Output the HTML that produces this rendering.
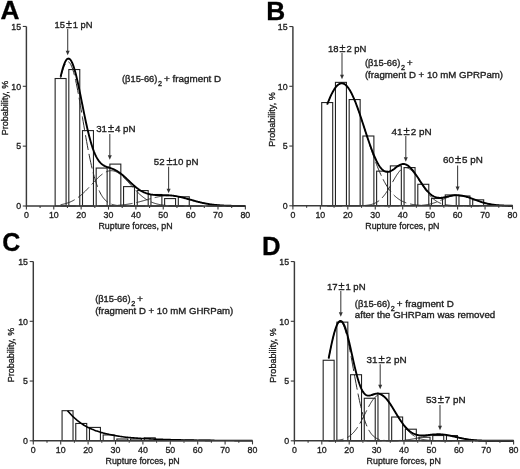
<!DOCTYPE html>
<html><head><meta charset="utf-8"><style>
html,body{margin:0;padding:0;background:#fff;overflow:hidden;width:520px;height:469px;}
svg{display:block;font-family:"Liberation Sans", sans-serif;filter:grayscale(1) blur(0.35px);}
text{fill:#1e1e1e;stroke:#1e1e1e;stroke-width:0.35px;}
</style></head><body>
<svg width="520" height="469" viewBox="0 0 520 469">
<rect width="520" height="469" fill="#fff"/>
<rect x="55.14" y="78.52" width="10.95" height="127.48" fill="none" stroke="#222" stroke-width="1.1"/>
<rect x="68.82" y="69.54" width="10.95" height="136.46" fill="none" stroke="#222" stroke-width="1.1"/>
<rect x="82.51" y="130.59" width="10.95" height="75.41" fill="none" stroke="#222" stroke-width="1.1"/>
<rect x="96.19" y="168.06" width="10.95" height="37.94" fill="none" stroke="#222" stroke-width="1.1"/>
<rect x="109.88" y="164.10" width="10.95" height="41.90" fill="none" stroke="#222" stroke-width="1.1"/>
<rect x="123.56" y="186.61" width="10.95" height="19.39" fill="none" stroke="#222" stroke-width="1.1"/>
<rect x="137.25" y="190.56" width="10.95" height="15.44" fill="none" stroke="#222" stroke-width="1.1"/>
<rect x="150.93" y="194.51" width="10.95" height="11.49" fill="none" stroke="#222" stroke-width="1.1"/>
<rect x="164.62" y="198.58" width="10.95" height="7.42" fill="none" stroke="#222" stroke-width="1.1"/>
<rect x="178.30" y="196.78" width="10.95" height="9.22" fill="none" stroke="#222" stroke-width="1.1"/>
<polyline points="60.61,78.12 61.30,75.33 61.98,72.75 62.67,70.42 63.35,68.34 64.03,66.53 64.72,65.00 65.40,63.75 66.09,62.80 66.77,62.16 67.45,61.82 68.14,61.79 68.82,62.06 69.51,62.65 70.19,63.54 70.88,64.72 71.56,66.20 72.24,67.96 72.93,69.98 73.61,72.27 74.30,74.79 74.98,77.55 75.67,80.51 76.35,83.67 77.03,87.01 77.72,90.50 78.40,94.13 79.09,97.88 79.77,101.73 80.46,105.65 81.14,109.64 81.82,113.66 82.51,117.70 83.19,121.75 83.88,125.79 84.56,129.79 85.25,133.75 85.93,137.66 86.61,141.48 87.30,145.23 87.98,148.88 88.67,152.43 89.35,155.86 90.04,159.17 90.72,162.36 91.40,165.42 92.09,168.34 92.77,171.13 93.46,173.78 94.14,176.30 94.82,178.67 95.51,180.91 96.19,183.02 96.88,184.99 97.56,186.84 98.25,188.56 98.93,190.16 99.61,191.64 100.30,193.02 100.98,194.28 101.67,195.45 102.35,196.52 103.04,197.50 103.72,198.39 104.40,199.21 105.09,199.95 105.77,200.62 106.46,201.23 107.14,201.78 107.83,202.27 108.51,202.71 109.19,203.11 109.88,203.46 110.56,203.78 111.25,204.06 111.93,204.31 112.62,204.53 113.30,204.72 113.98,204.89 114.67,205.04 115.35,205.17 116.04,205.29 116.72,205.39 117.41,205.48 118.09,205.55 118.77,205.62 119.46,205.67 120.14,205.72 120.83,205.77 121.51,205.80 122.19,205.83 122.88,205.86 123.56,205.88 124.25,205.90 124.93,205.92 125.62,205.93 126.30,205.94 126.98,205.95 127.67,205.96 128.35,205.97 129.04,205.97 129.72,205.98 130.41,205.98 131.09,205.98 131.77,205.99 132.46,205.99 133.14,205.99 133.83,205.99 134.51,205.99 135.20,206.00 135.88,206.00 136.56,206.00 137.25,206.00 137.93,206.00 138.62,206.00 139.30,206.00 139.99,206.00 140.67,206.00 141.35,206.00 142.04,206.00 142.72,206.00 143.41,206.00 144.09,206.00 144.78,206.00 145.46,206.00 146.14,206.00 146.83,206.00 147.51,206.00 148.20,206.00 148.88,206.00 149.56,206.00 150.25,206.00 150.93,206.00 151.62,206.00 152.30,206.00 152.99,206.00 153.67,206.00 154.35,206.00 155.04,206.00 155.72,206.00 156.41,206.00 157.09,206.00 157.78,206.00 158.46,206.00 159.14,206.00 159.83,206.00 160.51,206.00 161.20,206.00 161.88,206.00 162.57,206.00 163.25,206.00 163.93,206.00 164.62,206.00 165.30,206.00 165.99,206.00 166.67,206.00 167.36,206.00 168.04,206.00 168.72,206.00 169.41,206.00 170.09,206.00 170.78,206.00 171.46,206.00 172.15,206.00 172.83,206.00 173.51,206.00 174.20,206.00 174.88,206.00 175.57,206.00 176.25,206.00 176.94,206.00 177.62,206.00 178.30,206.00 178.99,206.00 179.67,206.00 180.36,206.00 181.04,206.00 181.72,206.00 182.41,206.00 183.09,206.00 183.78,206.00 184.46,206.00 185.15,206.00 185.83,206.00 186.51,206.00 187.20,206.00 187.88,206.00 188.57,206.00 189.25,206.00 189.94,206.00 190.62,206.00 191.30,206.00 191.99,206.00 192.67,206.00 193.36,206.00 194.04,206.00 194.73,206.00 195.41,206.00 196.09,206.00 196.78,206.00 197.46,206.00 198.15,206.00 198.83,206.00 199.52,206.00 200.20,206.00 200.88,206.00 201.57,206.00 202.25,206.00 202.94,206.00 203.62,206.00 204.31,206.00 204.99,206.00 205.67,206.00 206.36,206.00 207.04,206.00 207.73,206.00 208.41,206.00 209.09,206.00 209.78,206.00 210.46,206.00 211.15,206.00 211.83,206.00 212.52,206.00 213.20,206.00 213.88,206.00 214.57,206.00 215.25,206.00 215.94,206.00 216.62,206.00 217.31,206.00 217.99,206.00 218.67,206.00 219.36,206.00 220.04,206.00 220.73,206.00 221.41,206.00 222.10,206.00 222.78,206.00 223.46,206.00 224.15,206.00 224.83,206.00 225.52,206.00 226.20,206.00 226.89,206.00 227.57,206.00 228.25,206.00 228.94,206.00 229.62,206.00 230.31,206.00 230.99,206.00 231.68,206.00 232.36,206.00 233.04,206.00 233.73,206.00 234.41,206.00 235.10,206.00 235.78,206.00 236.46,206.00 237.15,206.00 237.83,206.00 238.52,206.00 239.20,206.00 239.89,206.00 240.57,206.00 241.25,206.00 241.94,206.00 242.62,206.00 243.31,206.00 243.99,206.00 244.68,206.00 245.36,206.00" fill="none" stroke="#2a2a2a" stroke-width="1.0" stroke-dasharray="15,4"/>
<polyline points="60.61,204.70 61.30,204.58 61.98,204.45 62.67,204.31 63.35,204.16 64.03,204.00 64.72,203.83 65.40,203.64 66.09,203.44 66.77,203.23 67.45,203.01 68.14,202.77 68.82,202.52 69.51,202.25 70.19,201.97 70.88,201.67 71.56,201.35 72.24,201.02 72.93,200.67 73.61,200.30 74.30,199.91 74.98,199.51 75.67,199.08 76.35,198.64 77.03,198.18 77.72,197.70 78.40,197.19 79.09,196.68 79.77,196.14 80.46,195.58 81.14,195.01 81.82,194.42 82.51,193.81 83.19,193.18 83.88,192.54 84.56,191.88 85.25,191.21 85.93,190.53 86.61,189.83 87.30,189.13 87.98,188.41 88.67,187.68 89.35,186.95 90.04,186.22 90.72,185.47 91.40,184.73 92.09,183.99 92.77,183.25 93.46,182.51 94.14,181.77 94.82,181.05 95.51,180.33 96.19,179.62 96.88,178.93 97.56,178.25 98.25,177.59 98.93,176.95 99.61,176.33 100.30,175.74 100.98,175.17 101.67,174.62 102.35,174.11 103.04,173.62 103.72,173.17 104.40,172.75 105.09,172.37 105.77,172.02 106.46,171.72 107.14,171.45 107.83,171.22 108.51,171.03 109.19,170.88 109.88,170.77 110.56,170.71 111.25,170.69 111.93,170.71 112.62,170.78 113.30,170.89 113.98,171.05 114.67,171.25 115.35,171.49 116.04,171.77 116.72,172.10 117.41,172.47 118.09,172.87 118.77,173.31 119.46,173.79 120.14,174.30 120.83,174.84 121.51,175.41 122.19,176.01 122.88,176.63 123.56,177.28 124.25,177.95 124.93,178.64 125.62,179.35 126.30,180.07 126.98,180.80 127.67,181.54 128.35,182.30 129.04,183.06 129.72,183.82 130.41,184.58 131.09,185.35 131.77,186.11 132.46,186.87 133.14,187.62 133.83,188.37 134.51,189.11 135.20,189.83 135.88,190.55 136.56,191.25 137.25,191.94 137.93,192.61 138.62,193.27 139.30,193.91 139.99,194.54 140.67,195.14 141.35,195.73 142.04,196.29 142.72,196.84 143.41,197.37 144.09,197.88 144.78,198.36 145.46,198.83 146.14,199.28 146.83,199.71 147.51,200.11 148.20,200.50 148.88,200.87 149.56,201.22 150.25,201.55 150.93,201.87 151.62,202.16 152.30,202.45 152.99,202.71 153.67,202.96 154.35,203.19 155.04,203.41 155.72,203.61 156.41,203.81 157.09,203.98 157.78,204.15 158.46,204.30 159.14,204.45 159.83,204.58 160.51,204.71 161.20,204.82 161.88,204.93 162.57,205.02 163.25,205.11 163.93,205.20 164.62,205.27 165.30,205.34 165.99,205.40 166.67,205.46 167.36,205.52 168.04,205.56 168.72,205.61 169.41,205.65 170.09,205.68 170.78,205.72 171.46,205.75 172.15,205.77 172.83,205.80 173.51,205.82 174.20,205.84 174.88,205.86 175.57,205.87 176.25,205.89 176.94,205.90 177.62,205.91 178.30,205.92 178.99,205.93 179.67,205.94 180.36,205.95 181.04,205.95 181.72,205.96 182.41,205.96 183.09,205.97 183.78,205.97 184.46,205.98 185.15,205.98 185.83,205.98 186.51,205.98 187.20,205.99 187.88,205.99 188.57,205.99 189.25,205.99 189.94,205.99 190.62,205.99 191.30,205.99 191.99,206.00 192.67,206.00 193.36,206.00 194.04,206.00 194.73,206.00 195.41,206.00 196.09,206.00 196.78,206.00 197.46,206.00 198.15,206.00 198.83,206.00 199.52,206.00 200.20,206.00 200.88,206.00 201.57,206.00 202.25,206.00 202.94,206.00 203.62,206.00 204.31,206.00 204.99,206.00 205.67,206.00 206.36,206.00 207.04,206.00 207.73,206.00 208.41,206.00 209.09,206.00 209.78,206.00 210.46,206.00 211.15,206.00 211.83,206.00 212.52,206.00 213.20,206.00 213.88,206.00 214.57,206.00 215.25,206.00 215.94,206.00 216.62,206.00 217.31,206.00 217.99,206.00 218.67,206.00 219.36,206.00 220.04,206.00 220.73,206.00 221.41,206.00 222.10,206.00 222.78,206.00 223.46,206.00 224.15,206.00 224.83,206.00 225.52,206.00 226.20,206.00 226.89,206.00 227.57,206.00 228.25,206.00 228.94,206.00 229.62,206.00 230.31,206.00 230.99,206.00 231.68,206.00 232.36,206.00 233.04,206.00 233.73,206.00 234.41,206.00 235.10,206.00 235.78,206.00 236.46,206.00 237.15,206.00 237.83,206.00 238.52,206.00 239.20,206.00 239.89,206.00 240.57,206.00 241.25,206.00 241.94,206.00 242.62,206.00 243.31,206.00 243.99,206.00 244.68,206.00 245.36,206.00" fill="none" stroke="#2a2a2a" stroke-width="1.0" stroke-dasharray="15,4"/>
<polyline points="60.61,206.00 61.30,206.00 61.98,206.00 62.67,206.00 63.35,206.00 64.03,206.00 64.72,206.00 65.40,206.00 66.09,206.00 66.77,206.00 67.45,206.00 68.14,206.00 68.82,206.00 69.51,206.00 70.19,206.00 70.88,206.00 71.56,206.00 72.24,206.00 72.93,206.00 73.61,206.00 74.30,206.00 74.98,206.00 75.67,206.00 76.35,206.00 77.03,206.00 77.72,206.00 78.40,206.00 79.09,206.00 79.77,206.00 80.46,206.00 81.14,206.00 81.82,206.00 82.51,206.00 83.19,205.99 83.88,205.99 84.56,205.99 85.25,205.99 85.93,205.99 86.61,205.99 87.30,205.99 87.98,205.99 88.67,205.99 89.35,205.99 90.04,205.98 90.72,205.98 91.40,205.98 92.09,205.98 92.77,205.97 93.46,205.97 94.14,205.97 94.82,205.97 95.51,205.96 96.19,205.96 96.88,205.95 97.56,205.95 98.25,205.94 98.93,205.94 99.61,205.93 100.30,205.92 100.98,205.91 101.67,205.91 102.35,205.90 103.04,205.89 103.72,205.87 104.40,205.86 105.09,205.85 105.77,205.83 106.46,205.82 107.14,205.80 107.83,205.78 108.51,205.77 109.19,205.74 109.88,205.72 110.56,205.70 111.25,205.67 111.93,205.64 112.62,205.61 113.30,205.58 113.98,205.55 114.67,205.51 115.35,205.47 116.04,205.43 116.72,205.39 117.41,205.34 118.09,205.29 118.77,205.24 119.46,205.18 120.14,205.12 120.83,205.06 121.51,204.99 122.19,204.92 122.88,204.85 123.56,204.77 124.25,204.69 124.93,204.61 125.62,204.52 126.30,204.42 126.98,204.33 127.67,204.23 128.35,204.12 129.04,204.01 129.72,203.89 130.41,203.77 131.09,203.65 131.77,203.52 132.46,203.39 133.14,203.25 133.83,203.11 134.51,202.96 135.20,202.81 135.88,202.66 136.56,202.50 137.25,202.34 137.93,202.17 138.62,202.00 139.30,201.83 139.99,201.65 140.67,201.47 141.35,201.29 142.04,201.10 142.72,200.91 143.41,200.72 144.09,200.53 144.78,200.34 145.46,200.15 146.14,199.95 146.83,199.76 147.51,199.56 148.20,199.37 148.88,199.17 149.56,198.98 150.25,198.79 150.93,198.60 151.62,198.41 152.30,198.23 152.99,198.05 153.67,197.87 154.35,197.70 155.04,197.53 155.72,197.37 156.41,197.21 157.09,197.06 157.78,196.92 158.46,196.78 159.14,196.65 159.83,196.52 160.51,196.40 161.20,196.30 161.88,196.20 162.57,196.10 163.25,196.02 163.93,195.95 164.62,195.89 165.30,195.83 165.99,195.79 166.67,195.75 167.36,195.73 168.04,195.71 168.72,195.71 169.41,195.71 170.09,195.73 170.78,195.75 171.46,195.79 172.15,195.83 172.83,195.89 173.51,195.95 174.20,196.02 174.88,196.10 175.57,196.20 176.25,196.30 176.94,196.40 177.62,196.52 178.30,196.65 178.99,196.78 179.67,196.92 180.36,197.06 181.04,197.21 181.72,197.37 182.41,197.53 183.09,197.70 183.78,197.87 184.46,198.05 185.15,198.23 185.83,198.41 186.51,198.60 187.20,198.79 187.88,198.98 188.57,199.17 189.25,199.37 189.94,199.56 190.62,199.76 191.30,199.95 191.99,200.15 192.67,200.34 193.36,200.53 194.04,200.72 194.73,200.91 195.41,201.10 196.09,201.29 196.78,201.47 197.46,201.65 198.15,201.83 198.83,202.00 199.52,202.17 200.20,202.34 200.88,202.50 201.57,202.66 202.25,202.81 202.94,202.96 203.62,203.11 204.31,203.25 204.99,203.39 205.67,203.52 206.36,203.65 207.04,203.77 207.73,203.89 208.41,204.01 209.09,204.12 209.78,204.23 210.46,204.33 211.15,204.42 211.83,204.52 212.52,204.61 213.20,204.69 213.88,204.77 214.57,204.85 215.25,204.92 215.94,204.99 216.62,205.06 217.31,205.12 217.99,205.18 218.67,205.24 219.36,205.29 220.04,205.34 220.73,205.39 221.41,205.43 222.10,205.47 222.78,205.51 223.46,205.55 224.15,205.58 224.83,205.61 225.52,205.64 226.20,205.67 226.89,205.70 227.57,205.72 228.25,205.74 228.94,205.77 229.62,205.78 230.31,205.80 230.99,205.82 231.68,205.83 232.36,205.85 233.04,205.86 233.73,205.87 234.41,205.89 235.10,205.90 235.78,205.91 236.46,205.91 237.15,205.92 237.83,205.93 238.52,205.94 239.20,205.94 239.89,205.95 240.57,205.95 241.25,205.96 241.94,205.96 242.62,205.97 243.31,205.97 243.99,205.97 244.68,205.97 245.36,205.98" fill="none" stroke="#2a2a2a" stroke-width="1.0" stroke-dasharray="15,4"/>
<polyline points="60.61,76.82 61.30,73.90 61.98,71.20 62.67,68.73 63.35,66.50 64.03,64.53 64.72,62.82 65.40,61.39 66.09,60.25 66.77,59.39 67.45,58.83 68.14,58.56 68.82,58.58 69.51,58.90 70.19,59.51 70.88,60.39 71.56,61.55 72.24,62.97 72.93,64.65 73.61,66.56 74.30,68.70 74.98,71.05 75.67,73.59 76.35,76.31 77.03,79.18 77.72,82.20 78.40,85.33 79.09,88.55 79.77,91.86 80.46,95.23 81.14,98.64 81.82,102.07 82.51,105.51 83.19,108.93 83.88,112.32 84.56,115.67 85.25,118.96 85.93,122.18 86.61,125.31 87.30,128.35 87.98,131.28 88.67,134.10 89.35,136.80 90.04,139.37 90.72,141.82 91.40,144.13 92.09,146.31 92.77,148.35 93.46,150.26 94.14,152.04 94.82,153.69 95.51,155.21 96.19,156.60 96.88,157.88 97.56,159.04 98.25,160.10 98.93,161.05 99.61,161.91 100.30,162.68 100.98,163.36 101.67,163.98 102.35,164.52 103.04,165.01 103.72,165.44 104.40,165.83 105.09,166.17 105.77,166.48 106.46,166.76 107.14,167.03 107.83,167.27 108.51,167.50 109.19,167.73 109.88,167.96 110.56,168.18 111.25,168.42 111.93,168.66 112.62,168.92 113.30,169.19 113.98,169.49 114.67,169.80 115.35,170.14 116.04,170.49 116.72,170.88 117.41,171.28 118.09,171.71 118.77,172.17 119.46,172.64 120.14,173.14 120.83,173.66 121.51,174.20 122.19,174.76 122.88,175.34 123.56,175.93 124.25,176.54 124.93,177.16 125.62,177.79 126.30,178.43 126.98,179.08 127.67,179.73 128.35,180.38 129.04,181.04 129.72,181.69 130.41,182.34 131.09,182.98 131.77,183.62 132.46,184.25 133.14,184.86 133.83,185.47 134.51,186.06 135.20,186.64 135.88,187.20 136.56,187.75 137.25,188.27 137.93,188.78 138.62,189.27 139.30,189.74 139.99,190.18 140.67,190.61 141.35,191.01 142.04,191.40 142.72,191.75 143.41,192.09 144.09,192.41 144.78,192.70 145.46,192.98 146.14,193.23 146.83,193.46 147.51,193.67 148.20,193.87 148.88,194.04 149.56,194.20 150.25,194.34 150.93,194.47 151.62,194.58 152.30,194.67 152.99,194.76 153.67,194.83 154.35,194.89 155.04,194.94 155.72,194.98 156.41,195.02 157.09,195.04 157.78,195.07 158.46,195.08 159.14,195.09 159.83,195.10 160.51,195.11 161.20,195.12 161.88,195.12 162.57,195.13 163.25,195.14 163.93,195.14 164.62,195.16 165.30,195.17 165.99,195.19 166.67,195.21 167.36,195.24 168.04,195.27 168.72,195.31 169.41,195.36 170.09,195.41 170.78,195.47 171.46,195.53 172.15,195.60 172.83,195.68 173.51,195.77 174.20,195.86 174.88,195.96 175.57,196.07 176.25,196.18 176.94,196.31 177.62,196.43 178.30,196.57 178.99,196.71 179.67,196.86 180.36,197.01 181.04,197.17 181.72,197.33 182.41,197.50 183.09,197.67 183.78,197.85 184.46,198.03 185.15,198.21 185.83,198.40 186.51,198.58 187.20,198.78 187.88,198.97 188.57,199.16 189.25,199.36 189.94,199.55 190.62,199.75 191.30,199.95 191.99,200.14 192.67,200.34 193.36,200.53 194.04,200.72 194.73,200.91 195.41,201.10 196.09,201.29 196.78,201.47 197.46,201.65 198.15,201.83 198.83,202.00 199.52,202.17 200.20,202.34 200.88,202.50 201.57,202.66 202.25,202.81 202.94,202.96 203.62,203.11 204.31,203.25 204.99,203.39 205.67,203.52 206.36,203.65 207.04,203.77 207.73,203.89 208.41,204.01 209.09,204.12 209.78,204.22 210.46,204.33 211.15,204.42 211.83,204.52 212.52,204.61 213.20,204.69 213.88,204.77 214.57,204.85 215.25,204.92 215.94,204.99 216.62,205.06 217.31,205.12 217.99,205.18 218.67,205.24 219.36,205.29 220.04,205.34 220.73,205.39 221.41,205.43 222.10,205.47 222.78,205.51 223.46,205.55 224.15,205.58 224.83,205.61 225.52,205.64 226.20,205.67 226.89,205.70 227.57,205.72 228.25,205.74 228.94,205.77 229.62,205.78 230.31,205.80 230.99,205.82 231.68,205.83 232.36,205.85 233.04,205.86 233.73,205.87 234.41,205.89 235.10,205.90 235.78,205.91 236.46,205.91 237.15,205.92 237.83,205.93 238.52,205.94 239.20,205.94 239.89,205.95 240.57,205.95 241.25,205.96 241.94,205.96 242.62,205.97 243.31,205.97 243.99,205.97 244.68,205.97 245.36,205.98" fill="none" stroke="#000" stroke-width="1.9" stroke-linejoin="round"/>
<path d="M26.40,26.45 V206.00 H245.36" fill="none" stroke="#3a3a3a" stroke-width="1.45"/>
<path d="M22.80,206.00 H26.40" stroke="#3a3a3a" stroke-width="1.1"/>
<text transform="translate(21.10,209.30) scale(0.9,1)" text-anchor="end" font-size="9.8">0</text>
<path d="M22.80,146.15 H26.40" stroke="#3a3a3a" stroke-width="1.1"/>
<text transform="translate(21.10,149.45) scale(0.9,1)" text-anchor="end" font-size="9.8">5</text>
<path d="M22.80,86.30 H26.40" stroke="#3a3a3a" stroke-width="1.1"/>
<text transform="translate(21.10,89.60) scale(0.9,1)" text-anchor="end" font-size="9.8">10</text>
<path d="M22.80,26.45 H26.40" stroke="#3a3a3a" stroke-width="1.1"/>
<text transform="translate(21.10,29.75) scale(0.9,1)" text-anchor="end" font-size="9.8">15</text>
<path d="M26.40,206.00 V209.60" stroke="#3a3a3a" stroke-width="1.1"/>
<text transform="translate(26.40,218.00) scale(0.9,1)" text-anchor="middle" font-size="9.8">0</text>
<path d="M40.09,206.00 V208.00" stroke="#3a3a3a" stroke-width="1.1"/>
<path d="M53.77,206.00 V209.60" stroke="#3a3a3a" stroke-width="1.1"/>
<text transform="translate(53.77,218.00) scale(0.9,1)" text-anchor="middle" font-size="9.8">10</text>
<path d="M67.45,206.00 V208.00" stroke="#3a3a3a" stroke-width="1.1"/>
<path d="M81.14,206.00 V209.60" stroke="#3a3a3a" stroke-width="1.1"/>
<text transform="translate(81.14,218.00) scale(0.9,1)" text-anchor="middle" font-size="9.8">20</text>
<path d="M94.82,206.00 V208.00" stroke="#3a3a3a" stroke-width="1.1"/>
<path d="M108.51,206.00 V209.60" stroke="#3a3a3a" stroke-width="1.1"/>
<text transform="translate(108.51,218.00) scale(0.9,1)" text-anchor="middle" font-size="9.8">30</text>
<path d="M122.19,206.00 V208.00" stroke="#3a3a3a" stroke-width="1.1"/>
<path d="M135.88,206.00 V209.60" stroke="#3a3a3a" stroke-width="1.1"/>
<text transform="translate(135.88,218.00) scale(0.9,1)" text-anchor="middle" font-size="9.8">40</text>
<path d="M149.56,206.00 V208.00" stroke="#3a3a3a" stroke-width="1.1"/>
<path d="M163.25,206.00 V209.60" stroke="#3a3a3a" stroke-width="1.1"/>
<text transform="translate(163.25,218.00) scale(0.9,1)" text-anchor="middle" font-size="9.8">50</text>
<path d="M176.94,206.00 V208.00" stroke="#3a3a3a" stroke-width="1.1"/>
<path d="M190.62,206.00 V209.60" stroke="#3a3a3a" stroke-width="1.1"/>
<text transform="translate(190.62,218.00) scale(0.9,1)" text-anchor="middle" font-size="9.8">60</text>
<path d="M204.31,206.00 V208.00" stroke="#3a3a3a" stroke-width="1.1"/>
<path d="M217.99,206.00 V209.60" stroke="#3a3a3a" stroke-width="1.1"/>
<text transform="translate(217.99,218.00) scale(0.9,1)" text-anchor="middle" font-size="9.8">70</text>
<path d="M231.68,206.00 V208.00" stroke="#3a3a3a" stroke-width="1.1"/>
<path d="M245.36,206.00 V209.60" stroke="#3a3a3a" stroke-width="1.1"/>
<text transform="translate(245.36,218.00) scale(0.9,1)" text-anchor="middle" font-size="9.8">80</text>
<text x="98.48" y="229.00" font-size="9.8" textLength="74.2" lengthAdjust="spacingAndGlyphs">Rupture forces, pN</text>
<text transform="translate(0.5,18.6) scale(1.05,1)" font-size="25" font-weight="bold" style="fill:#000;stroke:#000;stroke-width:0.3px">A</text>
<text transform="translate(7.8,108.0) rotate(-90)" x="-27.25" font-size="9.9" textLength="54.5" lengthAdjust="spacingAndGlyphs">Probability, %</text>
<rect x="321.72" y="102.55" width="10.98" height="103.25" fill="none" stroke="#222" stroke-width="1.1"/>
<rect x="335.45" y="82.36" width="10.98" height="123.44" fill="none" stroke="#222" stroke-width="1.1"/>
<rect x="349.17" y="99.56" width="10.98" height="106.24" fill="none" stroke="#222" stroke-width="1.1"/>
<rect x="362.90" y="136.01" width="10.98" height="69.79" fill="none" stroke="#222" stroke-width="1.1"/>
<rect x="376.62" y="171.15" width="10.98" height="34.66" fill="none" stroke="#222" stroke-width="1.1"/>
<rect x="390.35" y="165.89" width="10.98" height="39.91" fill="none" stroke="#222" stroke-width="1.1"/>
<rect x="404.07" y="167.56" width="10.98" height="38.24" fill="none" stroke="#222" stroke-width="1.1"/>
<rect x="417.80" y="184.29" width="10.98" height="21.51" fill="none" stroke="#222" stroke-width="1.1"/>
<rect x="431.52" y="198.51" width="10.98" height="7.29" fill="none" stroke="#222" stroke-width="1.1"/>
<rect x="445.25" y="194.93" width="10.98" height="10.87" fill="none" stroke="#222" stroke-width="1.1"/>
<rect x="458.97" y="196.00" width="10.98" height="9.80" fill="none" stroke="#222" stroke-width="1.1"/>
<rect x="472.70" y="199.83" width="10.98" height="5.97" fill="none" stroke="#222" stroke-width="1.1"/>
<polyline points="327.21,104.50 327.90,102.71 328.58,100.98 329.27,99.31 329.96,97.71 330.64,96.17 331.33,94.70 332.02,93.32 332.70,92.01 333.39,90.78 334.07,89.64 334.76,88.58 335.45,87.62 336.13,86.74 336.82,85.97 337.51,85.29 338.19,84.70 338.88,84.22 339.56,83.84 340.25,83.56 340.94,83.39 341.62,83.31 342.31,83.35 343.00,83.48 343.68,83.72 344.37,84.06 345.05,84.50 345.74,85.04 346.43,85.68 347.11,86.42 347.80,87.26 348.49,88.18 349.17,89.20 349.86,90.31 350.54,91.51 351.23,92.78 351.92,94.14 352.60,95.57 353.29,97.08 353.98,98.66 354.66,100.30 355.35,102.01 356.03,103.78 356.72,105.60 357.41,107.47 358.09,109.38 358.78,111.34 359.47,113.34 360.15,115.37 360.84,117.44 361.52,119.52 362.21,121.63 362.90,123.76 363.58,125.90 364.27,128.05 364.96,130.21 365.64,132.37 366.33,134.53 367.01,136.68 367.70,138.83 368.39,140.96 369.07,143.08 369.76,145.18 370.45,147.26 371.13,149.31 371.82,151.34 372.50,153.34 373.19,155.31 373.88,157.25 374.56,159.15 375.25,161.02 375.94,162.85 376.62,164.63 377.31,166.38 378.00,168.08 378.68,169.75 379.37,171.36 380.05,172.93 380.74,174.46 381.43,175.94 382.11,177.38 382.80,178.77 383.49,180.11 384.17,181.41 384.86,182.66 385.54,183.86 386.23,185.02 386.92,186.14 387.60,187.21 388.29,188.24 388.97,189.22 389.66,190.17 390.35,191.07 391.03,191.93 391.72,192.75 392.41,193.54 393.09,194.28 393.78,194.99 394.46,195.67 395.15,196.31 395.84,196.92 396.52,197.49 397.21,198.04 397.90,198.55 398.58,199.04 399.27,199.50 399.95,199.93 400.64,200.34 401.33,200.72 402.01,201.08 402.70,201.42 403.39,201.74 404.07,202.04 404.76,202.32 405.44,202.58 406.13,202.82 406.82,203.05 407.50,203.26 408.19,203.46 408.88,203.65 409.56,203.82 410.25,203.98 410.94,204.13 411.62,204.26 412.31,204.39 412.99,204.51 413.68,204.62 414.37,204.72 415.05,204.81 415.74,204.90 416.42,204.98 417.11,205.05 417.80,205.12 418.48,205.18 419.17,205.23 419.86,205.29 420.54,205.33 421.23,205.38 421.91,205.42 422.60,205.45 423.29,205.49 423.97,205.52 424.66,205.54 425.35,205.57 426.03,205.59 426.72,205.61 427.40,205.63 428.09,205.65 428.78,205.66 429.46,205.68 430.15,205.69 430.84,205.70 431.52,205.71 432.21,205.72 432.89,205.73 433.58,205.74 434.27,205.74 434.95,205.75 435.64,205.75 436.33,205.76 437.01,205.76 437.70,205.77 438.38,205.77 439.07,205.77 439.76,205.78 440.44,205.78 441.13,205.78 441.82,205.78 442.50,205.79 443.19,205.79 443.88,205.79 444.56,205.79 445.25,205.79 445.93,205.79 446.62,205.79 447.31,205.79 447.99,205.80 448.68,205.80 449.37,205.80 450.05,205.80 450.74,205.80 451.42,205.80 452.11,205.80 452.80,205.80 453.48,205.80 454.17,205.80 454.86,205.80 455.54,205.80 456.23,205.80 456.91,205.80 457.60,205.80 458.29,205.80 458.97,205.80 459.66,205.80 460.34,205.80 461.03,205.80 461.72,205.80 462.40,205.80 463.09,205.80 463.78,205.80 464.46,205.80 465.15,205.80 465.83,205.80 466.52,205.80 467.21,205.80 467.89,205.80 468.58,205.80 469.27,205.80 469.95,205.80 470.64,205.80 471.32,205.80 472.01,205.80 472.70,205.80 473.38,205.80 474.07,205.80 474.76,205.80 475.44,205.80 476.13,205.80 476.81,205.80 477.50,205.80 478.19,205.80 478.87,205.80 479.56,205.80 480.25,205.80 480.93,205.80 481.62,205.80 482.30,205.80 482.99,205.80 483.68,205.80 484.36,205.80 485.05,205.80 485.74,205.80 486.42,205.80 487.11,205.80 487.79,205.80 488.48,205.80 489.17,205.80 489.85,205.80 490.54,205.80 491.23,205.80 491.91,205.80 492.60,205.80 493.28,205.80 493.97,205.80 494.66,205.80 495.34,205.80 496.03,205.80 496.72,205.80 497.40,205.80 498.09,205.80 498.77,205.80 499.46,205.80 500.15,205.80 500.83,205.80 501.52,205.80 502.21,205.80 502.89,205.80 503.58,205.80 504.26,205.80 504.95,205.80 505.64,205.80 506.32,205.80 507.01,205.80 507.70,205.80 508.38,205.80 509.07,205.80 509.75,205.80 510.44,205.80 511.13,205.80 511.81,205.80 512.50,205.80" fill="none" stroke="#2a2a2a" stroke-width="1.0" stroke-dasharray="15,4"/>
<polyline points="327.21,205.80 327.90,205.80 328.58,205.80 329.27,205.80 329.96,205.80 330.64,205.80 331.33,205.80 332.02,205.80 332.70,205.80 333.39,205.80 334.07,205.80 334.76,205.80 335.45,205.80 336.13,205.80 336.82,205.80 337.51,205.80 338.19,205.80 338.88,205.80 339.56,205.80 340.25,205.80 340.94,205.80 341.62,205.80 342.31,205.80 343.00,205.80 343.68,205.80 344.37,205.80 345.05,205.80 345.74,205.80 346.43,205.80 347.11,205.80 347.80,205.80 348.49,205.80 349.17,205.80 349.86,205.79 350.54,205.79 351.23,205.79 351.92,205.79 352.60,205.79 353.29,205.78 353.98,205.78 354.66,205.78 355.35,205.77 356.03,205.77 356.72,205.76 357.41,205.75 358.09,205.74 358.78,205.73 359.47,205.71 360.15,205.70 360.84,205.68 361.52,205.65 362.21,205.62 362.90,205.59 363.58,205.55 364.27,205.51 364.96,205.46 365.64,205.40 366.33,205.33 367.01,205.26 367.70,205.17 368.39,205.07 369.07,204.95 369.76,204.82 370.45,204.68 371.13,204.51 371.82,204.33 372.50,204.12 373.19,203.89 373.88,203.63 374.56,203.35 375.25,203.03 375.94,202.69 376.62,202.31 377.31,201.89 378.00,201.43 378.68,200.94 379.37,200.41 380.05,199.83 380.74,199.21 381.43,198.54 382.11,197.83 382.80,197.07 383.49,196.26 384.17,195.41 384.86,194.52 385.54,193.58 386.23,192.60 386.92,191.57 387.60,190.51 388.29,189.42 388.97,188.29 389.66,187.14 390.35,185.97 391.03,184.77 391.72,183.57 392.41,182.36 393.09,181.16 393.78,179.96 394.46,178.78 395.15,177.62 395.84,176.49 396.52,175.39 397.21,174.34 397.90,173.35 398.58,172.41 399.27,171.54 399.95,170.74 400.64,170.02 401.33,169.38 402.01,168.83 402.70,168.38 403.39,168.02 404.07,167.77 404.76,167.61 405.44,167.56 406.13,167.60 406.82,167.72 407.50,167.91 408.19,168.19 408.88,168.53 409.56,168.96 410.25,169.45 410.94,170.01 411.62,170.63 412.31,171.31 412.99,172.05 413.68,172.85 414.37,173.69 415.05,174.57 415.74,175.49 416.42,176.45 417.11,177.43 417.80,178.44 418.48,179.46 419.17,180.50 419.86,181.55 420.54,182.61 421.23,183.66 421.91,184.71 422.60,185.75 423.29,186.78 423.97,187.79 424.66,188.79 425.35,189.76 426.03,190.71 426.72,191.63 427.40,192.52 428.09,193.39 428.78,194.22 429.46,195.01 430.15,195.78 430.84,196.50 431.52,197.20 432.21,197.85 432.89,198.48 433.58,199.07 434.27,199.62 434.95,200.14 435.64,200.62 436.33,201.08 437.01,201.50 437.70,201.90 438.38,202.26 439.07,202.60 439.76,202.91 440.44,203.20 441.13,203.46 441.82,203.70 442.50,203.92 443.19,204.12 443.88,204.30 444.56,204.47 445.25,204.62 445.93,204.75 446.62,204.87 447.31,204.98 447.99,205.08 448.68,205.17 449.37,205.24 450.05,205.31 450.74,205.38 451.42,205.43 452.11,205.48 452.80,205.52 453.48,205.56 454.17,205.59 454.86,205.62 455.54,205.64 456.23,205.67 456.91,205.69 457.60,205.70 458.29,205.72 458.97,205.73 459.66,205.74 460.34,205.75 461.03,205.76 461.72,205.76 462.40,205.77 463.09,205.77 463.78,205.78 464.46,205.78 465.15,205.78 465.83,205.79 466.52,205.79 467.21,205.79 467.89,205.79 468.58,205.79 469.27,205.79 469.95,205.80 470.64,205.80 471.32,205.80 472.01,205.80 472.70,205.80 473.38,205.80 474.07,205.80 474.76,205.80 475.44,205.80 476.13,205.80 476.81,205.80 477.50,205.80 478.19,205.80 478.87,205.80 479.56,205.80 480.25,205.80 480.93,205.80 481.62,205.80 482.30,205.80 482.99,205.80 483.68,205.80 484.36,205.80 485.05,205.80 485.74,205.80 486.42,205.80 487.11,205.80 487.79,205.80 488.48,205.80 489.17,205.80 489.85,205.80 490.54,205.80 491.23,205.80 491.91,205.80 492.60,205.80 493.28,205.80 493.97,205.80 494.66,205.80 495.34,205.80 496.03,205.80 496.72,205.80 497.40,205.80 498.09,205.80 498.77,205.80 499.46,205.80 500.15,205.80 500.83,205.80 501.52,205.80 502.21,205.80 502.89,205.80 503.58,205.80 504.26,205.80 504.95,205.80 505.64,205.80 506.32,205.80 507.01,205.80 507.70,205.80 508.38,205.80 509.07,205.80 509.75,205.80 510.44,205.80 511.13,205.80 511.81,205.80 512.50,205.80" fill="none" stroke="#2a2a2a" stroke-width="1.0" stroke-dasharray="15,4"/>
<polyline points="327.21,205.80 327.90,205.80 328.58,205.80 329.27,205.80 329.96,205.80 330.64,205.80 331.33,205.80 332.02,205.80 332.70,205.80 333.39,205.80 334.07,205.80 334.76,205.80 335.45,205.80 336.13,205.80 336.82,205.80 337.51,205.80 338.19,205.80 338.88,205.80 339.56,205.80 340.25,205.80 340.94,205.80 341.62,205.80 342.31,205.80 343.00,205.80 343.68,205.80 344.37,205.80 345.05,205.80 345.74,205.80 346.43,205.80 347.11,205.80 347.80,205.80 348.49,205.80 349.17,205.80 349.86,205.80 350.54,205.80 351.23,205.80 351.92,205.80 352.60,205.80 353.29,205.80 353.98,205.80 354.66,205.80 355.35,205.80 356.03,205.80 356.72,205.80 357.41,205.80 358.09,205.80 358.78,205.80 359.47,205.80 360.15,205.80 360.84,205.80 361.52,205.80 362.21,205.80 362.90,205.80 363.58,205.80 364.27,205.80 364.96,205.80 365.64,205.80 366.33,205.80 367.01,205.80 367.70,205.80 368.39,205.80 369.07,205.80 369.76,205.80 370.45,205.80 371.13,205.80 371.82,205.80 372.50,205.80 373.19,205.80 373.88,205.80 374.56,205.80 375.25,205.80 375.94,205.80 376.62,205.80 377.31,205.80 378.00,205.80 378.68,205.80 379.37,205.80 380.05,205.80 380.74,205.80 381.43,205.80 382.11,205.80 382.80,205.80 383.49,205.80 384.17,205.80 384.86,205.80 385.54,205.80 386.23,205.80 386.92,205.80 387.60,205.80 388.29,205.80 388.97,205.80 389.66,205.80 390.35,205.80 391.03,205.80 391.72,205.80 392.41,205.80 393.09,205.80 393.78,205.80 394.46,205.80 395.15,205.80 395.84,205.80 396.52,205.80 397.21,205.80 397.90,205.80 398.58,205.80 399.27,205.80 399.95,205.80 400.64,205.80 401.33,205.79 402.01,205.79 402.70,205.79 403.39,205.79 404.07,205.79 404.76,205.79 405.44,205.78 406.13,205.78 406.82,205.78 407.50,205.77 408.19,205.77 408.88,205.76 409.56,205.76 410.25,205.75 410.94,205.74 411.62,205.73 412.31,205.72 412.99,205.71 413.68,205.70 414.37,205.68 415.05,205.66 415.74,205.64 416.42,205.62 417.11,205.59 417.80,205.56 418.48,205.53 419.17,205.49 419.86,205.45 420.54,205.40 421.23,205.35 421.91,205.29 422.60,205.23 423.29,205.16 423.97,205.08 424.66,205.00 425.35,204.91 426.03,204.81 426.72,204.70 427.40,204.58 428.09,204.46 428.78,204.32 429.46,204.18 430.15,204.02 430.84,203.85 431.52,203.68 432.21,203.49 432.89,203.29 433.58,203.08 434.27,202.86 434.95,202.63 435.64,202.39 436.33,202.13 437.01,201.87 437.70,201.61 438.38,201.33 439.07,201.04 439.76,200.75 440.44,200.46 441.13,200.15 441.82,199.85 442.50,199.54 443.19,199.24 443.88,198.93 444.56,198.63 445.25,198.33 445.93,198.04 446.62,197.75 447.31,197.47 447.99,197.20 448.68,196.95 449.37,196.70 450.05,196.48 450.74,196.26 451.42,196.07 452.11,195.90 452.80,195.74 453.48,195.61 454.17,195.50 454.86,195.41 455.54,195.34 456.23,195.30 456.91,195.28 457.60,195.29 458.29,195.31 458.97,195.35 459.66,195.41 460.34,195.48 461.03,195.57 461.72,195.67 462.40,195.79 463.09,195.93 463.78,196.07 464.46,196.24 465.15,196.41 465.83,196.60 466.52,196.79 467.21,197.00 467.89,197.22 468.58,197.44 469.27,197.67 469.95,197.91 470.64,198.15 471.32,198.40 472.01,198.65 472.70,198.91 473.38,199.16 474.07,199.42 474.76,199.68 475.44,199.94 476.13,200.19 476.81,200.44 477.50,200.69 478.19,200.94 478.87,201.18 479.56,201.41 480.25,201.65 480.93,201.87 481.62,202.09 482.30,202.30 482.99,202.51 483.68,202.71 484.36,202.90 485.05,203.08 485.74,203.26 486.42,203.43 487.11,203.59 487.79,203.74 488.48,203.89 489.17,204.03 489.85,204.16 490.54,204.28 491.23,204.40 491.91,204.51 492.60,204.61 493.28,204.71 493.97,204.80 494.66,204.88 495.34,204.96 496.03,205.04 496.72,205.10 497.40,205.17 498.09,205.23 498.77,205.28 499.46,205.33 500.15,205.37 500.83,205.42 501.52,205.45 502.21,205.49 502.89,205.52 503.58,205.55 504.26,205.58 504.95,205.60 505.64,205.62 506.32,205.64 507.01,205.66 507.70,205.67 508.38,205.69 509.07,205.70 509.75,205.71 510.44,205.72 511.13,205.73 511.81,205.74 512.50,205.75" fill="none" stroke="#2a2a2a" stroke-width="1.0" stroke-dasharray="15,4"/>
<polyline points="327.21,104.50 327.90,102.71 328.58,100.98 329.27,99.31 329.96,97.71 330.64,96.17 331.33,94.70 332.02,93.32 332.70,92.01 333.39,90.78 334.07,89.64 334.76,88.58 335.45,87.62 336.13,86.74 336.82,85.97 337.51,85.29 338.19,84.70 338.88,84.22 339.56,83.84 340.25,83.56 340.94,83.39 341.62,83.31 342.31,83.35 343.00,83.48 343.68,83.72 344.37,84.06 345.05,84.50 345.74,85.04 346.43,85.68 347.11,86.42 347.80,87.25 348.49,88.18 349.17,89.20 349.86,90.31 350.54,91.50 351.23,92.77 351.92,94.13 352.60,95.56 353.29,97.07 353.98,98.64 354.66,100.28 355.35,101.98 356.03,103.74 356.72,105.55 357.41,107.42 358.09,109.32 358.78,111.27 359.47,113.25 360.15,115.27 360.84,117.31 361.52,119.38 362.21,121.46 362.90,123.55 363.58,125.66 364.27,127.76 364.96,129.87 365.64,131.97 366.33,134.06 367.01,136.14 367.70,138.20 368.39,140.23 369.07,142.23 369.76,144.20 370.45,146.13 371.13,148.03 371.82,149.87 372.50,151.66 373.19,153.40 373.88,155.08 374.56,156.70 375.25,158.25 375.94,159.73 376.62,161.14 377.31,162.47 378.00,163.72 378.68,164.89 379.37,165.97 380.05,166.96 380.74,167.87 381.43,168.68 382.11,169.41 382.80,170.04 383.49,170.58 384.17,171.02 384.86,171.38 385.54,171.64 386.23,171.82 386.92,171.91 387.60,171.92 388.29,171.86 388.97,171.72 389.66,171.51 390.35,171.23 391.03,170.90 391.72,170.52 392.41,170.10 393.09,169.64 393.78,169.15 394.46,168.64 395.15,168.12 395.84,167.60 396.52,167.08 397.21,166.58 397.90,166.10 398.58,165.65 399.27,165.23 399.95,164.87 400.64,164.55 401.33,164.30 402.01,164.11 402.70,164.00 403.39,163.96 404.07,164.00 404.76,164.12 405.44,164.33 406.13,164.61 406.82,164.95 407.50,165.35 408.19,165.82 408.88,166.35 409.56,166.93 410.25,167.58 410.94,168.28 411.62,169.03 412.31,169.83 412.99,170.67 413.68,171.56 414.37,172.48 415.05,173.44 415.74,174.43 416.42,175.44 417.11,176.47 417.80,177.51 418.48,178.57 419.17,179.63 419.86,180.69 420.54,181.74 421.23,182.78 421.91,183.82 422.60,184.83 423.29,185.82 423.97,186.79 424.66,187.73 425.35,188.64 426.03,189.51 426.72,190.34 427.40,191.14 428.09,191.89 428.78,192.60 429.46,193.26 430.15,193.88 430.84,194.46 431.52,194.98 432.21,195.46 432.89,195.89 433.58,196.28 434.27,196.62 434.95,196.91 435.64,197.17 436.33,197.37 437.01,197.54 437.70,197.67 438.38,197.76 439.07,197.82 439.76,197.84 440.44,197.83 441.13,197.80 441.82,197.73 442.50,197.65 443.19,197.55 443.88,197.42 444.56,197.29 445.25,197.14 445.93,196.98 446.62,196.81 447.31,196.65 447.99,196.48 448.68,196.31 449.37,196.14 450.05,195.99 450.74,195.84 451.42,195.70 452.11,195.57 452.80,195.46 453.48,195.36 454.17,195.29 454.86,195.23 455.54,195.19 456.23,195.17 456.91,195.17 457.60,195.19 458.29,195.23 458.97,195.28 459.66,195.35 460.34,195.43 461.03,195.52 461.72,195.63 462.40,195.76 463.09,195.90 463.78,196.05 464.46,196.22 465.15,196.39 465.83,196.58 466.52,196.78 467.21,196.99 467.89,197.21 468.58,197.43 469.27,197.67 469.95,197.91 470.64,198.15 471.32,198.40 472.01,198.65 472.70,198.91 473.38,199.16 474.07,199.42 474.76,199.68 475.44,199.93 476.13,200.19 476.81,200.44 477.50,200.69 478.19,200.94 478.87,201.18 479.56,201.41 480.25,201.65 480.93,201.87 481.62,202.09 482.30,202.30 482.99,202.51 483.68,202.71 484.36,202.90 485.05,203.08 485.74,203.26 486.42,203.43 487.11,203.59 487.79,203.74 488.48,203.89 489.17,204.03 489.85,204.16 490.54,204.28 491.23,204.40 491.91,204.51 492.60,204.61 493.28,204.71 493.97,204.80 494.66,204.88 495.34,204.96 496.03,205.04 496.72,205.10 497.40,205.17 498.09,205.23 498.77,205.28 499.46,205.33 500.15,205.37 500.83,205.42 501.52,205.45 502.21,205.49 502.89,205.52 503.58,205.55 504.26,205.58 504.95,205.60 505.64,205.62 506.32,205.64 507.01,205.66 507.70,205.67 508.38,205.69 509.07,205.70 509.75,205.71 510.44,205.72 511.13,205.73 511.81,205.74 512.50,205.75" fill="none" stroke="#000" stroke-width="1.9" stroke-linejoin="round"/>
<path d="M292.90,26.55 V205.80 H512.50" fill="none" stroke="#3a3a3a" stroke-width="1.45"/>
<path d="M289.30,205.80 H292.90" stroke="#3a3a3a" stroke-width="1.1"/>
<text transform="translate(287.60,209.10) scale(0.9,1)" text-anchor="end" font-size="9.8">0</text>
<path d="M289.30,146.05 H292.90" stroke="#3a3a3a" stroke-width="1.1"/>
<text transform="translate(287.60,149.35) scale(0.9,1)" text-anchor="end" font-size="9.8">5</text>
<path d="M289.30,86.30 H292.90" stroke="#3a3a3a" stroke-width="1.1"/>
<text transform="translate(287.60,89.60) scale(0.9,1)" text-anchor="end" font-size="9.8">10</text>
<path d="M289.30,26.55 H292.90" stroke="#3a3a3a" stroke-width="1.1"/>
<text transform="translate(287.60,29.85) scale(0.9,1)" text-anchor="end" font-size="9.8">15</text>
<path d="M292.90,205.80 V209.40" stroke="#3a3a3a" stroke-width="1.1"/>
<text transform="translate(292.90,217.80) scale(0.9,1)" text-anchor="middle" font-size="9.8">0</text>
<path d="M306.62,205.80 V207.80" stroke="#3a3a3a" stroke-width="1.1"/>
<path d="M320.35,205.80 V209.40" stroke="#3a3a3a" stroke-width="1.1"/>
<text transform="translate(320.35,217.80) scale(0.9,1)" text-anchor="middle" font-size="9.8">10</text>
<path d="M334.07,205.80 V207.80" stroke="#3a3a3a" stroke-width="1.1"/>
<path d="M347.80,205.80 V209.40" stroke="#3a3a3a" stroke-width="1.1"/>
<text transform="translate(347.80,217.80) scale(0.9,1)" text-anchor="middle" font-size="9.8">20</text>
<path d="M361.52,205.80 V207.80" stroke="#3a3a3a" stroke-width="1.1"/>
<path d="M375.25,205.80 V209.40" stroke="#3a3a3a" stroke-width="1.1"/>
<text transform="translate(375.25,217.80) scale(0.9,1)" text-anchor="middle" font-size="9.8">30</text>
<path d="M388.97,205.80 V207.80" stroke="#3a3a3a" stroke-width="1.1"/>
<path d="M402.70,205.80 V209.40" stroke="#3a3a3a" stroke-width="1.1"/>
<text transform="translate(402.70,217.80) scale(0.9,1)" text-anchor="middle" font-size="9.8">40</text>
<path d="M416.42,205.80 V207.80" stroke="#3a3a3a" stroke-width="1.1"/>
<path d="M430.15,205.80 V209.40" stroke="#3a3a3a" stroke-width="1.1"/>
<text transform="translate(430.15,217.80) scale(0.9,1)" text-anchor="middle" font-size="9.8">50</text>
<path d="M443.88,205.80 V207.80" stroke="#3a3a3a" stroke-width="1.1"/>
<path d="M457.60,205.80 V209.40" stroke="#3a3a3a" stroke-width="1.1"/>
<text transform="translate(457.60,217.80) scale(0.9,1)" text-anchor="middle" font-size="9.8">60</text>
<path d="M471.32,205.80 V207.80" stroke="#3a3a3a" stroke-width="1.1"/>
<path d="M485.05,205.80 V209.40" stroke="#3a3a3a" stroke-width="1.1"/>
<text transform="translate(485.05,217.80) scale(0.9,1)" text-anchor="middle" font-size="9.8">70</text>
<path d="M498.77,205.80 V207.80" stroke="#3a3a3a" stroke-width="1.1"/>
<path d="M512.50,205.80 V209.40" stroke="#3a3a3a" stroke-width="1.1"/>
<text transform="translate(512.50,217.80) scale(0.9,1)" text-anchor="middle" font-size="9.8">80</text>
<text x="365.30" y="228.80" font-size="9.8" textLength="74.2" lengthAdjust="spacingAndGlyphs">Rupture forces, pN</text>
<text transform="translate(266.2,19.6) scale(1.05,1)" font-size="25" font-weight="bold" style="fill:#000;stroke:#000;stroke-width:0.3px">B</text>
<text transform="translate(274.6,119.5) rotate(-90)" x="-27.25" font-size="9.9" textLength="54.5" lengthAdjust="spacingAndGlyphs">Probability, %</text>
<rect x="62.07" y="410.69" width="10.96" height="30.11" fill="none" stroke="#222" stroke-width="1.1"/>
<rect x="75.77" y="423.47" width="10.96" height="17.33" fill="none" stroke="#222" stroke-width="1.1"/>
<rect x="89.47" y="427.42" width="10.96" height="13.38" fill="none" stroke="#222" stroke-width="1.1"/>
<rect x="103.17" y="434.94" width="10.96" height="5.86" fill="none" stroke="#222" stroke-width="1.1"/>
<rect x="116.87" y="439.01" width="10.96" height="1.79" fill="none" stroke="#222" stroke-width="1.1"/>
<rect x="130.57" y="439.01" width="10.96" height="1.79" fill="none" stroke="#222" stroke-width="1.1"/>
<rect x="144.27" y="437.81" width="10.96" height="2.99" fill="none" stroke="#222" stroke-width="1.1"/>
<rect x="157.97" y="440.20" width="10.96" height="0.60" fill="none" stroke="#222" stroke-width="1.1"/>
<rect x="171.67" y="440.20" width="10.96" height="0.60" fill="none" stroke="#222" stroke-width="1.1"/>
<rect x="185.37" y="440.20" width="10.96" height="0.60" fill="none" stroke="#222" stroke-width="1.1"/>
<rect x="199.07" y="440.20" width="10.96" height="0.60" fill="none" stroke="#222" stroke-width="1.1"/>
<polyline points="67.55,410.69 68.23,411.50 68.92,412.29 69.60,413.06 70.29,413.81 70.97,414.54 71.66,415.25 72.34,415.94 73.03,416.61 73.72,417.27 74.40,417.90 75.09,418.52 75.77,419.12 76.45,419.71 77.14,420.28 77.83,420.84 78.51,421.38 79.19,421.90 79.88,422.41 80.56,422.91 81.25,423.39 81.94,423.86 82.62,424.32 83.31,424.77 83.99,425.20 84.68,425.62 85.36,426.03 86.05,426.43 86.73,426.82 87.41,427.16 88.10,427.49 88.78,427.81 89.47,428.12 90.16,428.43 90.84,428.73 91.53,429.02 92.21,429.31 92.90,429.58 93.58,429.85 94.27,430.12 94.95,430.38 95.64,430.63 96.32,430.88 97.00,431.12 97.69,431.35 98.38,431.58 99.06,431.80 99.75,432.02 100.43,432.23 101.12,432.43 101.80,432.62 102.48,432.81 103.17,432.99 103.86,433.17 104.54,433.34 105.23,433.51 105.91,433.68 106.59,433.84 107.28,434.00 107.97,434.15 108.65,434.30 109.34,434.45 110.02,434.59 110.70,434.74 111.39,434.87 112.08,435.01 112.76,435.14 113.45,435.27 114.13,435.39 114.81,435.52 115.50,435.64 116.19,435.76 116.87,435.88 117.56,435.99 118.24,436.11 118.92,436.22 119.61,436.32 120.30,436.43 120.98,436.53 121.67,436.63 122.35,436.73 123.04,436.82 123.72,436.92 124.41,437.01 125.09,437.10 125.78,437.18 126.46,437.27 127.15,437.35 127.83,437.41 128.51,437.47 129.20,437.53 129.88,437.59 130.57,437.65 131.25,437.70 131.94,437.76 132.62,437.81 133.31,437.87 134.00,437.92 134.68,437.97 135.37,438.02 136.05,438.07 136.74,438.12 137.42,438.17 138.11,438.21 138.79,438.26 139.48,438.31 140.16,438.35 140.84,438.39 141.53,438.44 142.22,438.48 142.90,438.52 143.59,438.56 144.27,438.60 144.96,438.64 145.64,438.68 146.32,438.71 147.01,438.75 147.69,438.79 148.38,438.82 149.06,438.85 149.75,438.89 150.44,438.92 151.12,438.95 151.81,438.98 152.49,439.02 153.18,439.05 153.86,439.08 154.55,439.11 155.23,439.13 155.92,439.16 156.60,439.19 157.29,439.22 157.97,439.25 158.66,439.27 159.34,439.30 160.03,439.32 160.71,439.35 161.39,439.37 162.08,439.40 162.76,439.42 163.45,439.45 164.13,439.47 164.82,439.49 165.50,439.51 166.19,439.54 166.88,439.56 167.56,439.58 168.25,439.60 168.93,439.62 169.62,439.64 170.30,439.66 170.99,439.68 171.67,439.70 172.36,439.72 173.04,439.74 173.73,439.76 174.41,439.77 175.10,439.79 175.78,439.81 176.47,439.82 177.15,439.84 177.84,439.86 178.52,439.87 179.20,439.89 179.89,439.91 180.57,439.92 181.26,439.94 181.94,439.95 182.63,439.97 183.31,439.98 184.00,439.99 184.69,440.01 185.37,440.02 186.06,440.03 186.74,440.05 187.43,440.06 188.11,440.07 188.80,440.09 189.48,440.10 190.17,440.11 190.85,440.12 191.54,440.13 192.22,440.14 192.91,440.16 193.59,440.17 194.28,440.18 194.96,440.19 195.64,440.20 196.33,440.21 197.01,440.22 197.70,440.23 198.38,440.24 199.07,440.25 199.75,440.26 200.44,440.27 201.12,440.28 201.81,440.29 202.50,440.29 203.18,440.30 203.87,440.31 204.55,440.32 205.24,440.33 205.92,440.34 206.61,440.34 207.29,440.35 207.98,440.36 208.66,440.37 209.35,440.37 210.03,440.38 210.72,440.39 211.40,440.40 212.09,440.40 212.77,440.41 213.45,440.42 214.14,440.42 214.82,440.43 215.51,440.44 216.19,440.44 216.88,440.45 217.56,440.45 218.25,440.46 218.94,440.47 219.62,440.47 220.31,440.48 220.99,440.48 221.68,440.49 222.36,440.49 223.05,440.50 223.73,440.50 224.42,440.51 225.10,440.51 225.79,440.52 226.47,440.52 227.16,440.53 227.84,440.53 228.53,440.54 229.21,440.54 229.90,440.55 230.58,440.55 231.26,440.56 231.95,440.56 232.63,440.56 233.32,440.57 234.00,440.57 234.69,440.58 235.38,440.58 236.06,440.58 236.75,440.59 237.43,440.59 238.12,440.59 238.80,440.60 239.49,440.60 240.17,440.60 240.86,440.61 241.54,440.61 242.23,440.61 242.91,440.62 243.60,440.62 244.28,440.62 244.97,440.63 245.65,440.63 246.34,440.63 247.02,440.64 247.71,440.64 248.39,440.64 249.07,440.64 249.76,440.65 250.44,440.65 251.13,440.65 251.81,440.65 252.50,440.66" fill="none" stroke="#000" stroke-width="1.6"/>
<path d="M33.30,261.55 V440.80 H252.50" fill="none" stroke="#3a3a3a" stroke-width="1.45"/>
<path d="M29.70,440.80 H33.30" stroke="#3a3a3a" stroke-width="1.1"/>
<text transform="translate(28.00,444.10) scale(0.9,1)" text-anchor="end" font-size="9.8">0</text>
<path d="M29.70,381.05 H33.30" stroke="#3a3a3a" stroke-width="1.1"/>
<text transform="translate(28.00,384.35) scale(0.9,1)" text-anchor="end" font-size="9.8">5</text>
<path d="M29.70,321.30 H33.30" stroke="#3a3a3a" stroke-width="1.1"/>
<text transform="translate(28.00,324.60) scale(0.9,1)" text-anchor="end" font-size="9.8">10</text>
<path d="M29.70,261.55 H33.30" stroke="#3a3a3a" stroke-width="1.1"/>
<text transform="translate(28.00,264.85) scale(0.9,1)" text-anchor="end" font-size="9.8">15</text>
<path d="M33.30,440.80 V444.40" stroke="#3a3a3a" stroke-width="1.1"/>
<text transform="translate(33.30,452.80) scale(0.9,1)" text-anchor="middle" font-size="9.8">0</text>
<path d="M47.00,440.80 V442.80" stroke="#3a3a3a" stroke-width="1.1"/>
<path d="M60.70,440.80 V444.40" stroke="#3a3a3a" stroke-width="1.1"/>
<text transform="translate(60.70,452.80) scale(0.9,1)" text-anchor="middle" font-size="9.8">10</text>
<path d="M74.40,440.80 V442.80" stroke="#3a3a3a" stroke-width="1.1"/>
<path d="M88.10,440.80 V444.40" stroke="#3a3a3a" stroke-width="1.1"/>
<text transform="translate(88.10,452.80) scale(0.9,1)" text-anchor="middle" font-size="9.8">20</text>
<path d="M101.80,440.80 V442.80" stroke="#3a3a3a" stroke-width="1.1"/>
<path d="M115.50,440.80 V444.40" stroke="#3a3a3a" stroke-width="1.1"/>
<text transform="translate(115.50,452.80) scale(0.9,1)" text-anchor="middle" font-size="9.8">30</text>
<path d="M129.20,440.80 V442.80" stroke="#3a3a3a" stroke-width="1.1"/>
<path d="M142.90,440.80 V444.40" stroke="#3a3a3a" stroke-width="1.1"/>
<text transform="translate(142.90,452.80) scale(0.9,1)" text-anchor="middle" font-size="9.8">40</text>
<path d="M156.60,440.80 V442.80" stroke="#3a3a3a" stroke-width="1.1"/>
<path d="M170.30,440.80 V444.40" stroke="#3a3a3a" stroke-width="1.1"/>
<text transform="translate(170.30,452.80) scale(0.9,1)" text-anchor="middle" font-size="9.8">50</text>
<path d="M184.00,440.80 V442.80" stroke="#3a3a3a" stroke-width="1.1"/>
<path d="M197.70,440.80 V444.40" stroke="#3a3a3a" stroke-width="1.1"/>
<text transform="translate(197.70,452.80) scale(0.9,1)" text-anchor="middle" font-size="9.8">60</text>
<path d="M211.40,440.80 V442.80" stroke="#3a3a3a" stroke-width="1.1"/>
<path d="M225.10,440.80 V444.40" stroke="#3a3a3a" stroke-width="1.1"/>
<text transform="translate(225.10,452.80) scale(0.9,1)" text-anchor="middle" font-size="9.8">70</text>
<path d="M238.80,440.80 V442.80" stroke="#3a3a3a" stroke-width="1.1"/>
<path d="M252.50,440.80 V444.40" stroke="#3a3a3a" stroke-width="1.1"/>
<text transform="translate(252.50,452.80) scale(0.9,1)" text-anchor="middle" font-size="9.8">80</text>
<text x="105.50" y="463.80" font-size="9.8" textLength="74.2" lengthAdjust="spacingAndGlyphs">Rupture forces, pN</text>
<text transform="translate(2.2,251.2) scale(1.0,1)" font-size="25" font-weight="bold" style="fill:#000;stroke:#000;stroke-width:0.3px">C</text>
<text transform="translate(14.2,355.1) rotate(-90)" x="-27.25" font-size="9.9" textLength="54.5" lengthAdjust="spacingAndGlyphs">Probability, %</text>
<rect x="323.17" y="360.26" width="10.96" height="80.54" fill="none" stroke="#222" stroke-width="1.1"/>
<rect x="336.87" y="322.14" width="10.96" height="118.66" fill="none" stroke="#222" stroke-width="1.1"/>
<rect x="350.57" y="374.72" width="10.96" height="66.08" fill="none" stroke="#222" stroke-width="1.1"/>
<rect x="364.27" y="398.26" width="10.96" height="42.54" fill="none" stroke="#222" stroke-width="1.1"/>
<rect x="377.97" y="393.36" width="10.96" height="47.44" fill="none" stroke="#222" stroke-width="1.1"/>
<rect x="391.67" y="417.02" width="10.96" height="23.78" fill="none" stroke="#222" stroke-width="1.1"/>
<rect x="405.37" y="429.21" width="10.96" height="11.59" fill="none" stroke="#222" stroke-width="1.1"/>
<rect x="419.07" y="437.22" width="10.96" height="3.58" fill="none" stroke="#222" stroke-width="1.1"/>
<rect x="432.77" y="435.54" width="10.96" height="5.26" fill="none" stroke="#222" stroke-width="1.1"/>
<rect x="446.47" y="435.54" width="10.96" height="5.26" fill="none" stroke="#222" stroke-width="1.1"/>
<polyline points="328.65,358.55 329.33,355.02 330.02,351.56 330.70,348.20 331.39,344.95 332.07,341.85 332.76,338.90 333.44,336.13 334.13,333.57 334.81,331.22 335.50,329.10 336.19,327.23 336.87,325.63 337.55,324.30 338.24,323.25 338.92,322.50 339.61,322.05 340.29,321.90 340.98,322.06 341.66,322.55 342.35,323.37 343.03,324.50 343.72,325.94 344.40,327.68 345.09,329.70 345.77,331.98 346.46,334.52 347.14,337.28 347.83,340.24 348.51,343.40 349.20,346.71 349.88,350.17 350.57,353.73 351.25,357.39 351.94,361.12 352.62,364.89 353.31,368.68 354.00,372.47 354.68,376.25 355.37,379.98 356.05,383.65 356.74,387.26 357.42,390.77 358.10,394.18 358.79,397.48 359.47,400.66 360.16,403.70 360.84,406.62 361.53,409.39 362.21,412.01 362.90,414.49 363.58,416.82 364.27,419.01 364.95,421.05 365.64,422.95 366.32,424.71 367.01,426.34 367.69,427.84 368.38,429.21 369.06,430.47 369.75,431.62 370.44,432.66 371.12,433.60 371.80,434.46 372.49,435.22 373.17,435.91 373.86,436.52 374.54,437.07 375.23,437.56 375.91,437.99 376.60,438.37 377.28,438.71 377.97,439.00 378.65,439.26 379.34,439.48 380.02,439.67 380.71,439.84 381.39,439.99 382.08,440.11 382.76,440.22 383.45,440.31 384.13,440.39 384.82,440.46 385.50,440.51 386.19,440.56 386.88,440.60 387.56,440.64 388.25,440.67 388.93,440.69 389.62,440.71 390.30,440.73 390.99,440.74 391.67,440.75 392.36,440.76 393.04,440.77 393.72,440.77 394.41,440.78 395.09,440.78 395.78,440.79 396.46,440.79 397.15,440.79 397.83,440.79 398.52,440.79 399.20,440.80 399.89,440.80 400.57,440.80 401.26,440.80 401.94,440.80 402.63,440.80 403.31,440.80 404.00,440.80 404.69,440.80 405.37,440.80 406.06,440.80 406.74,440.80 407.42,440.80 408.11,440.80 408.79,440.80 409.48,440.80 410.16,440.80 410.85,440.80 411.53,440.80 412.22,440.80 412.90,440.80 413.59,440.80 414.27,440.80 414.96,440.80 415.64,440.80 416.33,440.80 417.01,440.80 417.70,440.80 418.38,440.80 419.07,440.80 419.75,440.80 420.44,440.80 421.12,440.80 421.81,440.80 422.50,440.80 423.18,440.80 423.87,440.80 424.55,440.80 425.24,440.80 425.92,440.80 426.61,440.80 427.29,440.80 427.98,440.80 428.66,440.80 429.35,440.80 430.03,440.80 430.71,440.80 431.40,440.80 432.08,440.80 432.77,440.80 433.45,440.80 434.14,440.80 434.82,440.80 435.51,440.80 436.19,440.80 436.88,440.80 437.56,440.80 438.25,440.80 438.94,440.80 439.62,440.80 440.30,440.80 440.99,440.80 441.67,440.80 442.36,440.80 443.04,440.80 443.73,440.80 444.41,440.80 445.10,440.80 445.78,440.80 446.47,440.80 447.15,440.80 447.84,440.80 448.52,440.80 449.21,440.80 449.89,440.80 450.58,440.80 451.26,440.80 451.95,440.80 452.63,440.80 453.32,440.80 454.00,440.80 454.69,440.80 455.38,440.80 456.06,440.80 456.75,440.80 457.43,440.80 458.12,440.80 458.80,440.80 459.49,440.80 460.17,440.80 460.86,440.80 461.54,440.80 462.23,440.80 462.91,440.80 463.60,440.80 464.28,440.80 464.97,440.80 465.65,440.80 466.33,440.80 467.02,440.80 467.70,440.80 468.39,440.80 469.07,440.80 469.76,440.80 470.44,440.80 471.13,440.80 471.81,440.80 472.50,440.80 473.19,440.80 473.87,440.80 474.55,440.80 475.24,440.80 475.92,440.80 476.61,440.80 477.29,440.80 477.98,440.80 478.66,440.80 479.35,440.80 480.03,440.80 480.72,440.80 481.40,440.80 482.09,440.80 482.77,440.80 483.46,440.80 484.14,440.80 484.83,440.80 485.51,440.80 486.20,440.80 486.88,440.80 487.57,440.80 488.25,440.80 488.94,440.80 489.62,440.80 490.31,440.80 491.00,440.80 491.68,440.80 492.37,440.80 493.05,440.80 493.74,440.80 494.42,440.80 495.11,440.80 495.79,440.80 496.48,440.80 497.16,440.80 497.85,440.80 498.53,440.80 499.22,440.80 499.90,440.80 500.58,440.80 501.27,440.80 501.95,440.80 502.64,440.80 503.32,440.80 504.01,440.80 504.69,440.80 505.38,440.80 506.06,440.80 506.75,440.80 507.44,440.80 508.12,440.80 508.81,440.80 509.49,440.80 510.17,440.80 510.86,440.80 511.54,440.80 512.23,440.80 512.91,440.80 513.60,440.80" fill="none" stroke="#2a2a2a" stroke-width="1.0" stroke-dasharray="15,4"/>
<polyline points="328.65,440.74 329.33,440.72 330.02,440.71 330.70,440.69 331.39,440.67 332.07,440.65 332.76,440.62 333.44,440.59 334.13,440.56 334.81,440.51 335.50,440.47 336.19,440.41 336.87,440.35 337.55,440.28 338.24,440.20 338.92,440.10 339.61,440.00 340.29,439.88 340.98,439.75 341.66,439.59 342.35,439.43 343.03,439.24 343.72,439.03 344.40,438.79 345.09,438.54 345.77,438.25 346.46,437.93 347.14,437.59 347.83,437.21 348.51,436.79 349.20,436.34 349.88,435.85 350.57,435.32 351.25,434.74 351.94,434.12 352.62,433.46 353.31,432.75 354.00,431.99 354.68,431.18 355.37,430.32 356.05,429.42 356.74,428.46 357.42,427.46 358.10,426.41 358.79,425.32 359.47,424.18 360.16,423.00 360.84,421.79 361.53,420.54 362.21,419.26 362.90,417.95 363.58,416.62 364.27,415.28 364.95,413.93 365.64,412.57 366.32,411.22 367.01,409.87 367.69,408.54 368.38,407.24 369.06,405.96 369.75,404.73 370.44,403.54 371.12,402.40 371.80,401.33 372.49,400.32 373.17,399.38 373.86,398.53 374.54,397.76 375.23,397.08 375.91,396.50 376.60,396.02 377.28,395.64 377.97,395.37 378.65,395.21 379.34,395.15 380.02,395.19 380.71,395.31 381.39,395.51 382.08,395.78 382.76,396.13 383.45,396.56 384.13,397.05 384.82,397.62 385.50,398.25 386.19,398.95 386.88,399.70 387.56,400.51 388.25,401.38 388.93,402.29 389.62,403.25 390.30,404.25 390.99,405.28 391.67,406.34 392.36,407.43 393.04,408.54 393.72,409.67 394.41,410.81 395.09,411.96 395.78,413.11 396.46,414.27 397.15,415.41 397.83,416.56 398.52,417.69 399.20,418.80 399.89,419.90 400.57,420.98 401.26,422.03 401.94,423.06 402.63,424.06 403.31,425.04 404.00,425.98 404.69,426.89 405.37,427.77 406.06,428.61 406.74,429.42 407.42,430.19 408.11,430.93 408.79,431.63 409.48,432.30 410.16,432.93 410.85,433.53 411.53,434.09 412.22,434.62 412.90,435.12 413.59,435.59 414.27,436.03 414.96,436.43 415.64,436.81 416.33,437.17 417.01,437.50 417.70,437.80 418.38,438.08 419.07,438.34 419.75,438.58 420.44,438.79 421.12,438.99 421.81,439.18 422.50,439.34 423.18,439.50 423.87,439.63 424.55,439.76 425.24,439.87 425.92,439.98 426.61,440.07 427.29,440.15 427.98,440.23 428.66,440.29 429.35,440.35 430.03,440.41 430.71,440.45 431.40,440.50 432.08,440.53 432.77,440.57 433.45,440.60 434.14,440.62 434.82,440.65 435.51,440.67 436.19,440.68 436.88,440.70 437.56,440.71 438.25,440.73 438.94,440.74 439.62,440.75 440.30,440.75 440.99,440.76 441.67,440.77 442.36,440.77 443.04,440.77 443.73,440.78 444.41,440.78 445.10,440.78 445.78,440.79 446.47,440.79 447.15,440.79 447.84,440.79 448.52,440.79 449.21,440.79 449.89,440.80 450.58,440.80 451.26,440.80 451.95,440.80 452.63,440.80 453.32,440.80 454.00,440.80 454.69,440.80 455.38,440.80 456.06,440.80 456.75,440.80 457.43,440.80 458.12,440.80 458.80,440.80 459.49,440.80 460.17,440.80 460.86,440.80 461.54,440.80 462.23,440.80 462.91,440.80 463.60,440.80 464.28,440.80 464.97,440.80 465.65,440.80 466.33,440.80 467.02,440.80 467.70,440.80 468.39,440.80 469.07,440.80 469.76,440.80 470.44,440.80 471.13,440.80 471.81,440.80 472.50,440.80 473.19,440.80 473.87,440.80 474.55,440.80 475.24,440.80 475.92,440.80 476.61,440.80 477.29,440.80 477.98,440.80 478.66,440.80 479.35,440.80 480.03,440.80 480.72,440.80 481.40,440.80 482.09,440.80 482.77,440.80 483.46,440.80 484.14,440.80 484.83,440.80 485.51,440.80 486.20,440.80 486.88,440.80 487.57,440.80 488.25,440.80 488.94,440.80 489.62,440.80 490.31,440.80 491.00,440.80 491.68,440.80 492.37,440.80 493.05,440.80 493.74,440.80 494.42,440.80 495.11,440.80 495.79,440.80 496.48,440.80 497.16,440.80 497.85,440.80 498.53,440.80 499.22,440.80 499.90,440.80 500.58,440.80 501.27,440.80 501.95,440.80 502.64,440.80 503.32,440.80 504.01,440.80 504.69,440.80 505.38,440.80 506.06,440.80 506.75,440.80 507.44,440.80 508.12,440.80 508.81,440.80 509.49,440.80 510.17,440.80 510.86,440.80 511.54,440.80 512.23,440.80 512.91,440.80 513.60,440.80" fill="none" stroke="#2a2a2a" stroke-width="1.0" stroke-dasharray="15,4"/>
<polyline points="328.65,440.80 329.33,440.80 330.02,440.80 330.70,440.80 331.39,440.80 332.07,440.80 332.76,440.80 333.44,440.80 334.13,440.80 334.81,440.80 335.50,440.80 336.19,440.80 336.87,440.80 337.55,440.80 338.24,440.80 338.92,440.80 339.61,440.80 340.29,440.80 340.98,440.80 341.66,440.80 342.35,440.80 343.03,440.80 343.72,440.80 344.40,440.80 345.09,440.80 345.77,440.80 346.46,440.80 347.14,440.80 347.83,440.80 348.51,440.80 349.20,440.80 349.88,440.80 350.57,440.80 351.25,440.80 351.94,440.80 352.62,440.80 353.31,440.80 354.00,440.80 354.68,440.80 355.37,440.80 356.05,440.80 356.74,440.80 357.42,440.80 358.10,440.80 358.79,440.80 359.47,440.80 360.16,440.80 360.84,440.80 361.53,440.80 362.21,440.80 362.90,440.80 363.58,440.80 364.27,440.80 364.95,440.80 365.64,440.80 366.32,440.80 367.01,440.80 367.69,440.80 368.38,440.80 369.06,440.80 369.75,440.80 370.44,440.80 371.12,440.80 371.80,440.80 372.49,440.80 373.17,440.80 373.86,440.80 374.54,440.80 375.23,440.80 375.91,440.80 376.60,440.80 377.28,440.79 377.97,440.79 378.65,440.79 379.34,440.79 380.02,440.79 380.71,440.79 381.39,440.79 382.08,440.78 382.76,440.78 383.45,440.78 384.13,440.78 384.82,440.77 385.50,440.77 386.19,440.76 386.88,440.76 387.56,440.75 388.25,440.75 388.93,440.74 389.62,440.73 390.30,440.72 390.99,440.71 391.67,440.70 392.36,440.69 393.04,440.67 393.72,440.66 394.41,440.64 395.09,440.62 395.78,440.60 396.46,440.58 397.15,440.55 397.83,440.52 398.52,440.49 399.20,440.46 399.89,440.42 400.57,440.38 401.26,440.34 401.94,440.30 402.63,440.25 403.31,440.19 404.00,440.14 404.69,440.08 405.37,440.01 406.06,439.94 406.74,439.87 407.42,439.79 408.11,439.70 408.79,439.62 409.48,439.52 410.16,439.42 410.85,439.32 411.53,439.21 412.22,439.10 412.90,438.98 413.59,438.86 414.27,438.73 414.96,438.60 415.64,438.46 416.33,438.32 417.01,438.18 417.70,438.03 418.38,437.88 419.07,437.72 419.75,437.56 420.44,437.40 421.12,437.24 421.81,437.08 422.50,436.92 423.18,436.76 423.87,436.59 424.55,436.43 425.24,436.27 425.92,436.11 426.61,435.96 427.29,435.81 427.98,435.66 428.66,435.52 429.35,435.38 430.03,435.25 430.71,435.13 431.40,435.01 432.08,434.90 432.77,434.80 433.45,434.71 434.14,434.63 434.82,434.56 435.51,434.50 436.19,434.45 436.88,434.40 437.56,434.37 438.25,434.36 438.94,434.35 439.62,434.35 440.30,434.37 440.99,434.39 441.67,434.43 442.36,434.47 443.04,434.53 443.73,434.60 444.41,434.68 445.10,434.77 445.78,434.86 446.47,434.97 447.15,435.08 447.84,435.20 448.52,435.33 449.21,435.46 449.89,435.60 450.58,435.75 451.26,435.90 451.95,436.05 452.63,436.21 453.32,436.37 454.00,436.53 454.69,436.69 455.38,436.85 456.06,437.02 456.75,437.18 457.43,437.34 458.12,437.50 458.80,437.66 459.49,437.81 460.17,437.97 460.86,438.12 461.54,438.26 462.23,438.41 462.91,438.54 463.60,438.68 464.28,438.81 464.97,438.93 465.65,439.05 466.33,439.17 467.02,439.28 467.70,439.38 468.39,439.48 469.07,439.58 469.76,439.67 470.44,439.76 471.13,439.84 471.81,439.91 472.50,439.98 473.19,440.05 473.87,440.11 474.55,440.17 475.24,440.23 475.92,440.28 476.61,440.32 477.29,440.37 477.98,440.41 478.66,440.44 479.35,440.48 480.03,440.51 480.72,440.54 481.40,440.57 482.09,440.59 482.77,440.61 483.46,440.63 484.14,440.65 484.83,440.67 485.51,440.68 486.20,440.69 486.88,440.71 487.57,440.72 488.25,440.73 488.94,440.74 489.62,440.74 490.31,440.75 491.00,440.76 491.68,440.76 492.37,440.77 493.05,440.77 493.74,440.77 494.42,440.78 495.11,440.78 495.79,440.78 496.48,440.79 497.16,440.79 497.85,440.79 498.53,440.79 499.22,440.79 499.90,440.79 500.58,440.79 501.27,440.79 501.95,440.80 502.64,440.80 503.32,440.80 504.01,440.80 504.69,440.80 505.38,440.80 506.06,440.80 506.75,440.80 507.44,440.80 508.12,440.80 508.81,440.80 509.49,440.80 510.17,440.80 510.86,440.80 511.54,440.80 512.23,440.80 512.91,440.80 513.60,440.80" fill="none" stroke="#2a2a2a" stroke-width="1.0" stroke-dasharray="15,4"/>
<polyline points="328.65,358.49 329.33,354.94 330.02,351.47 330.70,348.09 331.39,344.83 332.07,341.70 332.76,338.72 333.44,335.93 334.13,333.32 334.81,330.93 335.50,328.77 336.19,326.85 336.87,325.18 337.55,323.78 338.24,322.65 338.92,321.81 339.61,321.25 340.29,320.98 340.98,321.01 341.66,321.35 342.35,322.00 343.03,322.94 343.72,324.17 344.40,325.68 345.09,327.43 345.77,329.43 346.46,331.65 347.14,334.06 347.83,336.65 348.51,339.39 349.20,342.25 349.88,345.21 350.57,348.25 351.25,351.34 351.94,354.44 352.62,357.55 353.31,360.63 354.00,363.66 354.68,366.63 355.37,369.50 356.05,372.27 356.74,374.92 357.42,377.43 358.10,379.79 358.79,382.00 359.47,384.04 360.16,385.91 360.84,387.60 361.53,389.12 362.21,390.47 362.90,391.64 363.58,392.64 364.27,393.49 364.95,394.17 365.64,394.72 366.32,395.12 367.01,395.41 367.69,395.58 368.38,395.65 369.06,395.63 369.75,395.54 370.44,395.40 371.12,395.21 371.80,394.98 372.49,394.74 373.17,394.49 373.86,394.25 374.54,394.03 375.23,393.84 375.91,393.69 376.60,393.59 377.28,393.54 377.97,393.56 378.65,393.65 379.34,393.82 380.02,394.05 380.71,394.34 381.39,394.68 382.08,395.08 382.76,395.53 383.45,396.05 384.13,396.62 384.82,397.25 385.50,397.93 386.19,398.67 386.88,399.46 387.56,400.30 388.25,401.19 388.93,402.12 389.62,403.09 390.30,404.09 390.99,405.13 391.67,406.19 392.36,407.28 393.04,408.38 393.72,409.50 394.41,410.63 395.09,411.76 395.78,412.90 396.46,414.03 397.15,415.16 397.83,416.27 398.52,417.37 399.20,418.46 399.89,419.52 400.57,420.56 401.26,421.57 401.94,422.56 402.63,423.51 403.31,424.43 404.00,425.32 404.69,426.17 405.37,426.98 406.06,427.75 406.74,428.48 407.42,429.18 408.11,429.83 408.79,430.45 409.48,431.02 410.16,431.55 410.85,432.05 411.53,432.50 412.22,432.92 412.90,433.30 413.59,433.65 414.27,433.96 414.96,434.23 415.64,434.48 416.33,434.69 417.01,434.87 417.70,435.03 418.38,435.16 419.07,435.26 419.75,435.34 420.44,435.40 421.12,435.44 421.81,435.46 422.50,435.46 423.18,435.45 423.87,435.43 424.55,435.39 425.24,435.34 425.92,435.29 426.61,435.23 427.29,435.16 427.98,435.09 428.66,435.01 429.35,434.94 430.03,434.86 430.71,434.78 431.40,434.71 432.08,434.64 432.77,434.57 433.45,434.51 434.14,434.45 434.82,434.41 435.51,434.36 436.19,434.33 436.88,434.30 437.56,434.29 438.25,434.28 438.94,434.28 439.62,434.30 440.30,434.32 440.99,434.35 441.67,434.39 442.36,434.45 443.04,434.51 443.73,434.58 444.41,434.66 445.10,434.75 445.78,434.85 446.47,434.96 447.15,435.07 447.84,435.19 448.52,435.32 449.21,435.46 449.89,435.60 450.58,435.75 451.26,435.90 451.95,436.05 452.63,436.21 453.32,436.37 454.00,436.53 454.69,436.69 455.38,436.85 456.06,437.02 456.75,437.18 457.43,437.34 458.12,437.50 458.80,437.66 459.49,437.81 460.17,437.97 460.86,438.12 461.54,438.26 462.23,438.41 462.91,438.54 463.60,438.68 464.28,438.81 464.97,438.93 465.65,439.05 466.33,439.17 467.02,439.28 467.70,439.38 468.39,439.48 469.07,439.58 469.76,439.67 470.44,439.76 471.13,439.84 471.81,439.91 472.50,439.98 473.19,440.05 473.87,440.11 474.55,440.17 475.24,440.23 475.92,440.28 476.61,440.32 477.29,440.37 477.98,440.41 478.66,440.44 479.35,440.48 480.03,440.51 480.72,440.54 481.40,440.57 482.09,440.59 482.77,440.61 483.46,440.63 484.14,440.65 484.83,440.67 485.51,440.68 486.20,440.69 486.88,440.71 487.57,440.72 488.25,440.73 488.94,440.74 489.62,440.74 490.31,440.75 491.00,440.76 491.68,440.76 492.37,440.77 493.05,440.77 493.74,440.77 494.42,440.78 495.11,440.78 495.79,440.78 496.48,440.79 497.16,440.79 497.85,440.79 498.53,440.79 499.22,440.79 499.90,440.79 500.58,440.79 501.27,440.79 501.95,440.80 502.64,440.80 503.32,440.80 504.01,440.80 504.69,440.80 505.38,440.80 506.06,440.80 506.75,440.80 507.44,440.80 508.12,440.80 508.81,440.80 509.49,440.80 510.17,440.80 510.86,440.80 511.54,440.80 512.23,440.80 512.91,440.80 513.60,440.80" fill="none" stroke="#000" stroke-width="1.9" stroke-linejoin="round"/>
<path d="M294.40,261.55 V440.80 H513.60" fill="none" stroke="#3a3a3a" stroke-width="1.45"/>
<path d="M290.80,440.80 H294.40" stroke="#3a3a3a" stroke-width="1.1"/>
<text transform="translate(289.10,444.10) scale(0.9,1)" text-anchor="end" font-size="9.8">0</text>
<path d="M290.80,381.05 H294.40" stroke="#3a3a3a" stroke-width="1.1"/>
<text transform="translate(289.10,384.35) scale(0.9,1)" text-anchor="end" font-size="9.8">5</text>
<path d="M290.80,321.30 H294.40" stroke="#3a3a3a" stroke-width="1.1"/>
<text transform="translate(289.10,324.60) scale(0.9,1)" text-anchor="end" font-size="9.8">10</text>
<path d="M290.80,261.55 H294.40" stroke="#3a3a3a" stroke-width="1.1"/>
<text transform="translate(289.10,264.85) scale(0.9,1)" text-anchor="end" font-size="9.8">15</text>
<path d="M294.40,440.80 V444.40" stroke="#3a3a3a" stroke-width="1.1"/>
<text transform="translate(294.40,452.80) scale(0.9,1)" text-anchor="middle" font-size="9.8">0</text>
<path d="M308.10,440.80 V442.80" stroke="#3a3a3a" stroke-width="1.1"/>
<path d="M321.80,440.80 V444.40" stroke="#3a3a3a" stroke-width="1.1"/>
<text transform="translate(321.80,452.80) scale(0.9,1)" text-anchor="middle" font-size="9.8">10</text>
<path d="M335.50,440.80 V442.80" stroke="#3a3a3a" stroke-width="1.1"/>
<path d="M349.20,440.80 V444.40" stroke="#3a3a3a" stroke-width="1.1"/>
<text transform="translate(349.20,452.80) scale(0.9,1)" text-anchor="middle" font-size="9.8">20</text>
<path d="M362.90,440.80 V442.80" stroke="#3a3a3a" stroke-width="1.1"/>
<path d="M376.60,440.80 V444.40" stroke="#3a3a3a" stroke-width="1.1"/>
<text transform="translate(376.60,452.80) scale(0.9,1)" text-anchor="middle" font-size="9.8">30</text>
<path d="M390.30,440.80 V442.80" stroke="#3a3a3a" stroke-width="1.1"/>
<path d="M404.00,440.80 V444.40" stroke="#3a3a3a" stroke-width="1.1"/>
<text transform="translate(404.00,452.80) scale(0.9,1)" text-anchor="middle" font-size="9.8">40</text>
<path d="M417.70,440.80 V442.80" stroke="#3a3a3a" stroke-width="1.1"/>
<path d="M431.40,440.80 V444.40" stroke="#3a3a3a" stroke-width="1.1"/>
<text transform="translate(431.40,452.80) scale(0.9,1)" text-anchor="middle" font-size="9.8">50</text>
<path d="M445.10,440.80 V442.80" stroke="#3a3a3a" stroke-width="1.1"/>
<path d="M458.80,440.80 V444.40" stroke="#3a3a3a" stroke-width="1.1"/>
<text transform="translate(458.80,452.80) scale(0.9,1)" text-anchor="middle" font-size="9.8">60</text>
<path d="M472.50,440.80 V442.80" stroke="#3a3a3a" stroke-width="1.1"/>
<path d="M486.20,440.80 V444.40" stroke="#3a3a3a" stroke-width="1.1"/>
<text transform="translate(486.20,452.80) scale(0.9,1)" text-anchor="middle" font-size="9.8">70</text>
<path d="M499.90,440.80 V442.80" stroke="#3a3a3a" stroke-width="1.1"/>
<path d="M513.60,440.80 V444.40" stroke="#3a3a3a" stroke-width="1.1"/>
<text transform="translate(513.60,452.80) scale(0.9,1)" text-anchor="middle" font-size="9.8">80</text>
<text x="366.60" y="463.80" font-size="9.8" textLength="74.2" lengthAdjust="spacingAndGlyphs">Rupture forces, pN</text>
<text transform="translate(261.9,255.0) scale(1.03,1)" font-size="25" font-weight="bold" style="fill:#000;stroke:#000;stroke-width:0.3px">D</text>
<text transform="translate(275.8,355.4) rotate(-90)" x="-27.25" font-size="9.9" textLength="54.5" lengthAdjust="spacingAndGlyphs">Probability, %</text>
<text x="54.60" y="27.50" font-size="9.8" textLength="37.90" lengthAdjust="spacingAndGlyphs">15<tspan font-size="11.2"> ± </tspan>1 pN</text>
<path d="M67.70,28.90 V51.20" stroke="#444" stroke-width="1.1"/>
<path d="M65.70,50.70 L69.70,50.70 L67.70,55.20 Z" fill="#333"/>
<text x="96.20" y="132.30" font-size="9.8" textLength="39.40" lengthAdjust="spacingAndGlyphs">31<tspan font-size="11.2"> ± </tspan>4 pN</text>
<path d="M109.80,133.90 V155.80" stroke="#444" stroke-width="1.1"/>
<path d="M107.80,155.30 L111.80,155.30 L109.80,159.80 Z" fill="#333"/>
<text x="153.80" y="164.80" font-size="9.8" textLength="44.70" lengthAdjust="spacingAndGlyphs">52 <tspan font-size="11.2">±</tspan>10 pN</text>
<path d="M168.60,166.70 V189.30" stroke="#444" stroke-width="1.1"/>
<path d="M166.60,188.80 L170.60,188.80 L168.60,193.30 Z" fill="#333"/>
<text x="328.10" y="51.50" font-size="9.8" textLength="38.30" lengthAdjust="spacingAndGlyphs">18<tspan font-size="11.2"> ± </tspan>2 pN</text>
<path d="M342.00,53.00 V75.20" stroke="#444" stroke-width="1.1"/>
<path d="M340.00,74.70 L344.00,74.70 L342.00,79.20 Z" fill="#333"/>
<text x="391.60" y="134.80" font-size="9.8" textLength="40.00" lengthAdjust="spacingAndGlyphs">41<tspan font-size="11.2"> ± </tspan>2 pN</text>
<path d="M405.80,135.90 V157.70" stroke="#444" stroke-width="1.1"/>
<path d="M403.80,157.20 L407.80,157.20 L405.80,161.70 Z" fill="#333"/>
<text x="443.10" y="163.40" font-size="9.8" textLength="39.70" lengthAdjust="spacingAndGlyphs">60<tspan font-size="11.2"> ± </tspan>5 pN</text>
<path d="M457.60,165.50 V186.90" stroke="#444" stroke-width="1.1"/>
<path d="M455.60,186.40 L459.60,186.40 L457.60,190.90 Z" fill="#333"/>
<text x="326.90" y="289.90" font-size="9.8" textLength="38.70" lengthAdjust="spacingAndGlyphs">17<tspan font-size="11.2"> ± </tspan>1 pN</text>
<path d="M340.80,291.10 V312.70" stroke="#444" stroke-width="1.1"/>
<path d="M338.80,312.20 L342.80,312.20 L340.80,316.70 Z" fill="#333"/>
<text x="366.50" y="362.50" font-size="9.8" textLength="40.10" lengthAdjust="spacingAndGlyphs">31<tspan font-size="11.2"> ± </tspan>2 pN</text>
<path d="M380.20,364.20 V385.30" stroke="#444" stroke-width="1.1"/>
<path d="M378.20,384.80 L382.20,384.80 L380.20,389.30 Z" fill="#333"/>
<text x="425.90" y="403.40" font-size="9.8" textLength="39.70" lengthAdjust="spacingAndGlyphs">53<tspan font-size="11.2"> ± </tspan>7 pN</text>
<path d="M440.00,404.90 V426.30" stroke="#444" stroke-width="1.1"/>
<path d="M438.00,425.80 L442.00,425.80 L440.00,430.30 Z" fill="#333"/>
<text x="122.00" y="82.40" font-size="9.6" textLength="35.4" lengthAdjust="spacingAndGlyphs">(β15-66)</text>
<text x="158.00" y="86.00" font-size="7.2">2</text>
<text x="164.00" y="82.40" font-size="9.6" textLength="57.20" lengthAdjust="spacingAndGlyphs">+ fragment D</text>
<text x="364.90" y="66.40" font-size="9.6" textLength="35.4" lengthAdjust="spacingAndGlyphs">(β15-66)</text>
<text x="400.90" y="70.00" font-size="7.2">2</text>
<text x="406.90" y="66.40" font-size="9.6">+</text>
<text x="364.90" y="77.90" font-size="9.6" textLength="138.20" lengthAdjust="spacingAndGlyphs">(fragment D + 10 mM GPRPam)</text>
<text x="95.15" y="302.10" font-size="9.6" textLength="35.4" lengthAdjust="spacingAndGlyphs">(β15-66)</text>
<text x="131.15" y="305.70" font-size="7.2">2</text>
<text x="137.15" y="302.10" font-size="9.6">+</text>
<text x="95.15" y="313.50" font-size="9.6" textLength="138.10" lengthAdjust="spacingAndGlyphs">(fragment D + 10 mM GHRPam)</text>
<text x="354.80" y="307.00" font-size="9.6" textLength="35.4" lengthAdjust="spacingAndGlyphs">(β15-66)</text>
<text x="390.80" y="310.60" font-size="7.2">2</text>
<text x="396.80" y="307.00" font-size="9.6" textLength="57.10" lengthAdjust="spacingAndGlyphs">+ fragment D</text>
<text x="354.80" y="318.30" font-size="9.6" textLength="140.40" lengthAdjust="spacingAndGlyphs">after the GHRPam was removed</text>
</svg>
</body></html>
